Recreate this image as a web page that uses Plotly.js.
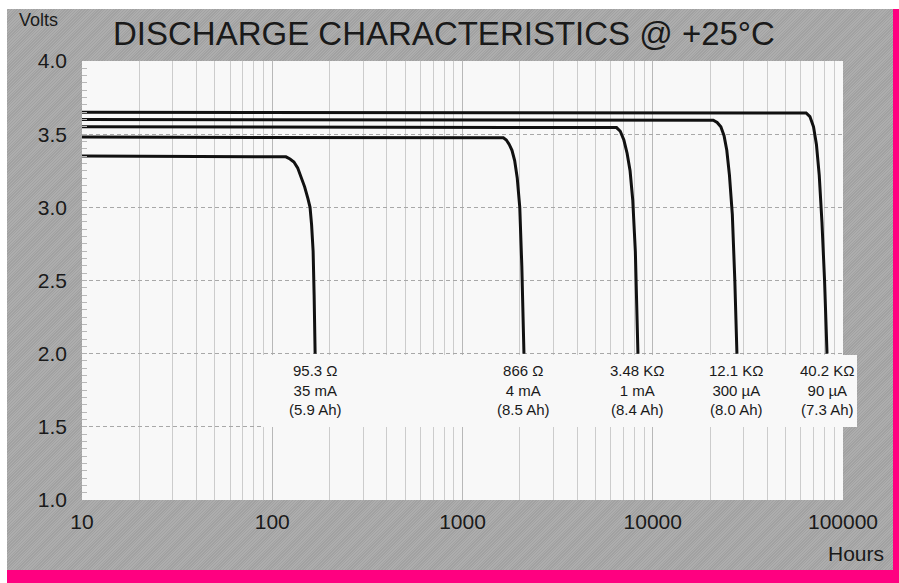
<!DOCTYPE html>
<html>
<head>
<meta charset="utf-8">
<script src="https://cdn.plot.ly/plotly-3.0.1.min.js"></script>
<style>
  html, body { margin: 0; padding: 0; background: #ffffff; }
  #wrap { position: relative; width: 899px; height: 583px; overflow: hidden; background: #ffffff; }
  #pink { position: absolute; left: 7px; top: 9px; width: 892px; height: 574px; background: #ff0080; }
  #gray { position: absolute; left: 7px; top: 9px; width: 886px; height: 561px;
          background-color: #a8a8a8;
          background-image: repeating-linear-gradient(135deg, rgba(255,255,255,0.06) 0px, rgba(255,255,255,0.06) 1px, rgba(0,0,0,0.04) 1px, rgba(0,0,0,0.04) 2px); }
  #chart { position: absolute; left: 0; top: 0; width: 899px; height: 583px; }
</style>
</head>
<body>
<div id="wrap">
  <div id="pink"></div>
  <div id="gray"></div>
  <div id="chart"></div>
</div>
<script>
// ---- Data ----
var hours_953 = [10, 112, 118, 124, 130, 136, 142, 148, 154, 158, 161, 164, 166, 168];
var volts_953 = [3.35, 3.35, 3.345, 3.33, 3.31, 3.27, 3.21, 3.14, 3.06, 3.0, 2.88, 2.7, 2.4, 2.0];

var hours_866 = [10, 1580, 1640, 1700, 1760, 1820, 1880, 1940, 2000, 2050, 2104];
var volts_866 = [3.48, 3.48, 3.475, 3.46, 3.43, 3.39, 3.32, 3.2, 3.0, 2.6, 2.0];

var hours_348k = [10, 6150, 6450, 6750, 7050, 7330, 7600, 7850, 8100, 8360];
var volts_348k = [3.55, 3.55, 3.545, 3.52, 3.46, 3.37, 3.25, 3.05, 2.7, 2.0];

var hours_121k = [10, 19800, 20800, 21800, 22800, 23700, 24500, 25300, 26200, 27000, 27700];
var volts_121k = [3.60, 3.60, 3.595, 3.58, 3.55, 3.49, 3.39, 3.22, 2.95, 2.5, 2.0];

var hours_402k = [10, 61000, 64000, 67000, 70000, 72500, 75000, 77500, 80000, 82400];
var volts_402k = [3.65, 3.65, 3.645, 3.62, 3.55, 3.43, 3.22, 2.9, 2.5, 2.0];

var loadLabels = ["95.3 Ω", "866 Ω", "3.48 KΩ", "12.1 KΩ", "40.2 KΩ"];
var currentLabels = ["35 mA", "4 mA", "1 mA", "300 µA", "90 µA"];
var capacityLabels = ["(5.9 Ah)", "(8.5 Ah)", "(8.4 Ah)", "(8.0 Ah)", "(7.3 Ah)"];

var xTickVals = [10, 100, 1000, 10000, 100000];
var xTickText = ["10", "100", "1000", "10000", "100000"];
var yTickVals = [1.0, 1.5, 2.0, 2.5, 3.0, 3.5, 4.0];

var seriesX = [hours_953, hours_866, hours_348k, hours_121k, hours_402k];
var seriesY = [volts_953, volts_866, volts_348k, volts_121k, volts_402k];

var FONT = "Liberation Sans, Arial, Helvetica, sans-serif";

var traces = seriesX.map(function (xs, i) {
  return {
    x: xs, y: seriesY[i], type: "scatter", mode: "lines",
    line: { color: "#111111", width: 3, shape: "linear" },
    hoverinfo: "skip", showlegend: false
  };
});

var annotations = seriesX.map(function (xs, i) {
  return {
    x: Math.log10(xs[xs.length - 1]), y: 2.0, xref: "x", yref: "y",
    text: loadLabels[i] + "<br>" + currentLabels[i] + "<br>" + capacityLabels[i],
    showarrow: false, xanchor: "center", yanchor: "top", yshift: -6,
    align: "center", font: { family: FONT, size: 15, color: "#1a1a1a" }
  };
});

annotations.push({
  text: "DISCHARGE CHARACTERISTICS @ +25°C", xref: "paper", yref: "paper",
  x: (444 - 82) / 761, y: 1 + (61 - 33) / 439, xanchor: "center", yanchor: "middle",
  showarrow: false, font: { family: FONT, size: 33, color: "#1a1a1a" }
});
annotations.push({
  text: "Volts", xref: "paper", yref: "paper",
  x: (38 - 82) / 761, y: 1 + (61 - 20) / 439, xanchor: "center", yanchor: "middle",
  showarrow: false, font: { family: FONT, size: 18, color: "#1a1a1a" }
});
annotations.push({
  text: "Hours", xref: "paper", yref: "paper",
  x: (856 - 82) / 761, y: -(553 - 500) / 439, xanchor: "center", yanchor: "middle",
  showarrow: false, font: { family: FONT, size: 21, color: "#1a1a1a" }
});

var layout = {
  width: 899, height: 583,
  margin: { l: 82, r: 56, t: 61, b: 83, pad: 0 },
  paper_bgcolor: "rgba(0,0,0,0)",
  plot_bgcolor: "#f8f8f8",
  showlegend: false,
  xaxis: {
    type: "log", range: [1, 5], fixedrange: true,
    tickvals: xTickVals, ticktext: xTickText,
    ticks: "", showline: false, zeroline: false,
    showgrid: true, gridcolor: "#b8b8b8", gridwidth: 1,
    ticklabelstandoff: 7,
    tickfont: { family: FONT, size: 21, color: "#1a1a1a" },
    minor: { dtick: "D1", showgrid: true, gridcolor: "#cccccc", gridwidth: 1, ticks: "" }
  },
  yaxis: {
    range: [1.0, 4.0], fixedrange: true,
    tickvals: yTickVals, tickformat: ".1f",
    ticks: "inside", ticklen: 5, tickcolor: "#b0b0b0",
    showline: false, zeroline: false,
    showgrid: true, gridcolor: "#a8a8a8", gridwidth: 1, griddash: "4px,3px",
    ticklabelstandoff: 14,
    tickfont: { family: FONT, size: 21, color: "#1a1a1a" },
    minor: { dtick: 0.05, ticks: "inside", ticklen: 5, tickcolor: "#b8b8b8", showgrid: false }
  },
  shapes: [{
    type: "rect", xref: "paper", yref: "paper", layer: "above",
    x0: (262 - 82) / 761, x1: (857 - 82) / 761,
    y0: (500 - 427) / 439, y1: (500 - 355) / 439,
    fillcolor: "#f8f8f8", line: { width: 0 }
  }],
  annotations: annotations
};

Plotly.newPlot("chart", traces, layout, { displayModeBar: false, staticPlot: true });
</script>
</body>
</html>
